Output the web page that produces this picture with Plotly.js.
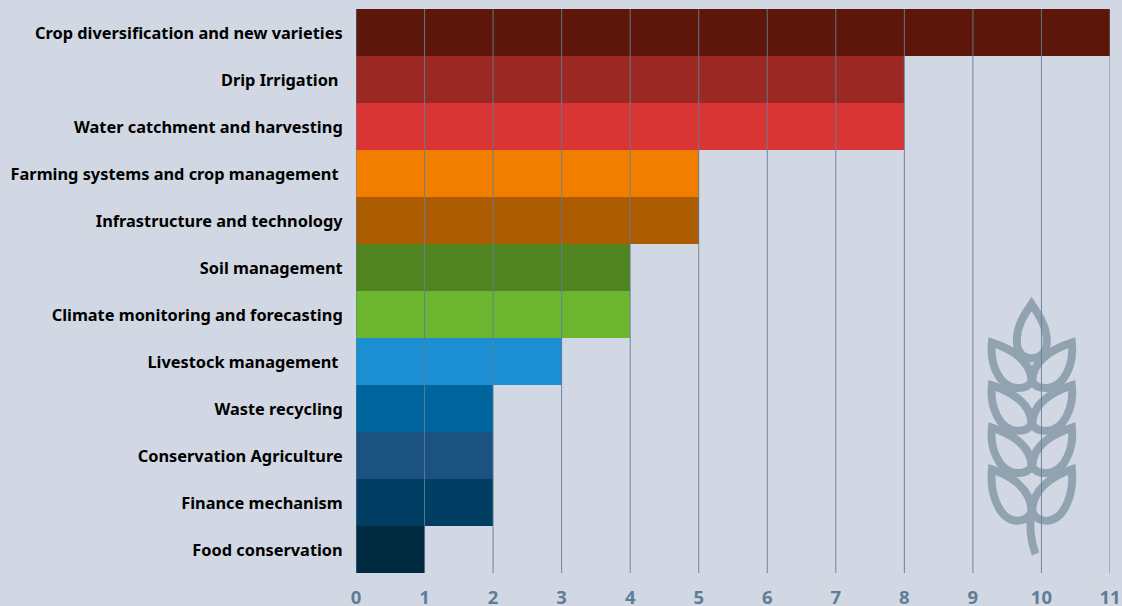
<!DOCTYPE html>
<html><head><meta charset="utf-8">
<script src="https://cdn.plot.ly/plotly-3.0.1.min.js"></script>
<style>html,body{margin:0;padding:0;background:#d2d8e3}</style></head>
<body><div id="chart" style="width:1122px;height:606px"></div>
<script>
const categories = ["Crop diversification and new varieties","Drip Irrigation\u00a0","Water catchment and harvesting","Farming systems and crop management\u00a0","Infrastructure and technology","Soil management","Climate monitoring and forecasting","Livestock management\u00a0","Waste recycling","Conservation Agriculture","Finance mechanism","Food conservation"];
const values = [11,8,8,5,5,4,4,3,2,2,2,1];
const barColors = ["#5c170a","#9c2823","#d93535","#f27e00","#ac5c00","#518421","#6cb52f","#1b8fd2","#00659c","#1b5280","#003f63","#002a40"];
const xTicks = [0,1,2,3,4,5,6,7,8,9,10,11];

const leafPath = "M97 188C150 205 216 240 216 305C208 318 192 326 170 324C118 320 90 250 97 188Z";
const lowLeaf = "M97 568C150 585 216 625 216 695C208 712 192 724 170 722C118 718 90 640 97 568Z";
const leaf = d => `<path d="${d}"/><path transform="translate(434 0) scale(-1 1)" d="${d}"/>`;
const wheat = `<svg xmlns="http://www.w3.org/2000/svg" width="420" height="870" viewBox="0 0 420 870"><g fill="none" stroke="#678190" stroke-width="24" stroke-linejoin="miter" opacity="0.6"><path d="M216 72C192 108 170 140 172 185C172 215 190 235 216 235C242 235 262 215 262 185C262 140 240 108 216 72Z"/>${leaf(leafPath)}<g transform="translate(0 128)">${leaf(leafPath)}</g><g transform="translate(0 255)">${leaf(leafPath)}</g>${leaf(lowLeaf)}<path d="M216 690C208 740 212 780 228 822"/></g></svg>`;

const trace = {type:"bar",orientation:"h",y:categories,x:values,width:1,
  marker:{color:barColors,line:{width:0}},hoverinfo:"x+y"};

const layout = {
  width:1122,height:606,
  paper_bgcolor:"#d2d8e3",plot_bgcolor:"#d2d8e3",
  margin:{l:356,r:11.5,t:9,b:33,pad:0},
  bargap:0,showlegend:false,
  font:{family:"'Noto Sans', sans-serif"},
  xaxis:{range:[0,11],tickvals:xTicks,showgrid:false,zeroline:false,showline:false,ticks:"outside",ticklen:8,tickcolor:"rgba(0,0,0,0)",
    tickfont:{size:18.5,color:"#5f7d98",family:"'Noto Sans', sans-serif",weight:700},automargin:false},
  yaxis:{type:"category",categoryorder:"array",categoryarray:categories,range:[11.5,-0.5],showgrid:false,zeroline:false,showline:false,
    ticks:"outside",ticklen:9,tickcolor:"rgba(0,0,0,0)",ticklabelshift:-1,tickfont:{size:16.35,color:"#000000",family:"'Noto Sans', sans-serif",weight:700},automargin:false},
  shapes:xTicks.map(v=>({type:"line",xref:"x",yref:"paper",x0:v,x1:v,y0:0,y1:1,layer:"above",line:{color:"rgba(95,125,152,0.9)",width:1}})),
  images:[{source:"data:image/svg+xml;charset=utf-8,"+encodeURIComponent(wheat),xref:"paper",yref:"paper",
    x:(960-356)/754.5,y:(573-280)/564,sizex:140/754.5,sizey:290/564,xanchor:"left",yanchor:"top",sizing:"stretch",layer:"above"}]
};
Plotly.newPlot("chart",[trace],layout,{displayModeBar:false,staticPlot:true});
</script></body></html>
